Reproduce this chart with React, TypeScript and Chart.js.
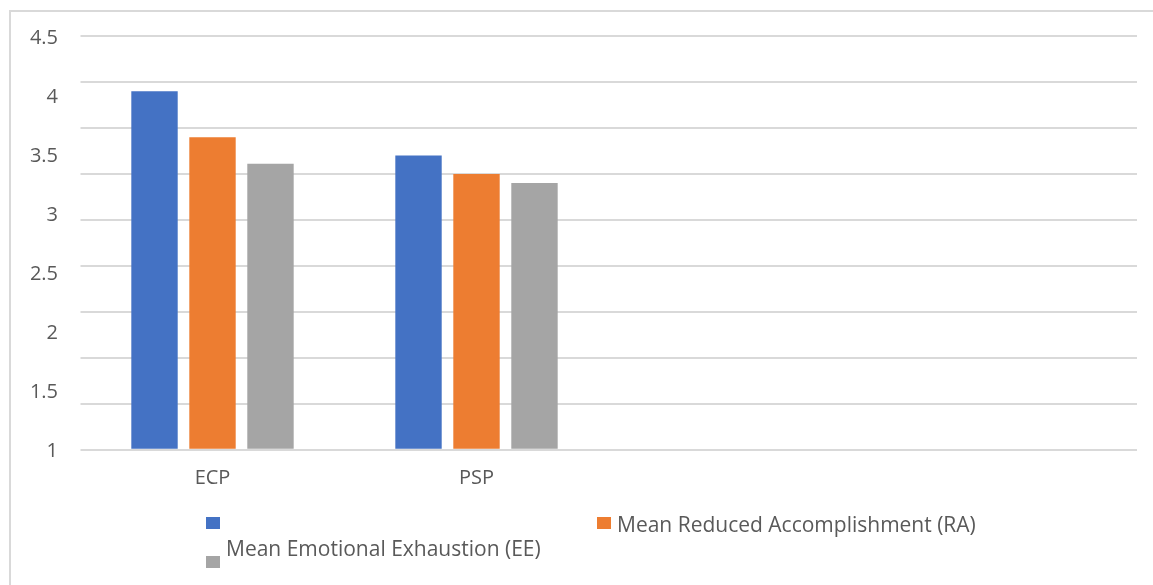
import React, { useEffect, useRef } from "react";
import { Chart, registerables } from "chart.js";

Chart.register(...registerables);

const categories = ["ECP", "PSP", "", ""];
const seriesLabels = ["", "Mean Reduced Accomplishment (RA)", "Mean Emotional Exhaustion (EE)"];
const blueValues = [3.9, 3.2];
const orangeValues = [3.4, 3.0];
const grayValues = [3.11, 2.9];
const seriesColors = ["#4472C4", "#ED7D31", "#A5A5A5"];
const gridMin = 0;
const gridMax = 4.5;
const gridStep = 0.5;
const labelMin = 1;
const labelMax = 4.5;
const labelStep = 0.5;

const FONT = "'Open Sans', 'Noto Sans', sans-serif";
const TEXT = "#595959";

const legendPlugin = {
  id: "customLegend",
  afterDraw(chart: any) {
    const ctx = chart.ctx;
    const ds = chart.data.datasets;
    const spots = [
      { bx: 206, by: 517, tx: 226, ty: 532 },
      { bx: 597, by: 517, tx: 617, ty: 532 },
      { bx: 206, by: 556, tx: 226, ty: 556 },
    ];
    ctx.save();
    ctx.font = `21px ${FONT}`;
    ctx.textBaseline = "alphabetic";
    ctx.textAlign = "left";
    ds.forEach((d: any, i: number) => {
      const s = spots[i];
      ctx.fillStyle = d.backgroundColor;
      ctx.fillRect(s.bx, s.by, 14, 12);
      ctx.fillStyle = TEXT;
      if (d.label) ctx.fillText(d.label, s.tx, s.ty);
    });
    ctx.restore();
  },
};

export default function App() {
  const ref = useRef<HTMLCanvasElement>(null);
  useEffect(() => {
    if (!ref.current) return;
    const chart = new Chart(ref.current, {
      type: "bar",
      data: {
        labels: categories,
        datasets: [
          { label: seriesLabels[0], data: blueValues, backgroundColor: seriesColors[0], yAxisID: "y" },
          { label: seriesLabels[1], data: orangeValues, backgroundColor: seriesColors[1], yAxisID: "y" },
          { label: seriesLabels[2], data: grayValues, backgroundColor: seriesColors[2], yAxisID: "y" },
        ],
      },
      options: {
        responsive: false,
        animation: false,
        categoryPercentage: 0.659,
        barPercentage: 0.8,
        layout: { padding: { top: 36, left: 0, right: 0, bottom: 0 } },
        plugins: { legend: { display: false }, tooltip: { enabled: false } },
        scales: {
          x: {
            grid: { display: false, drawTicks: false },
            border: { display: false },
            ticks: { color: TEXT, font: { family: FONT, size: 20 }, padding: 17, maxRotation: 0 },
            afterFit(scale: any) {
              scale.height = 135.3;
            },
          },
          y2: {
            position: "left",
            min: labelMin,
            max: labelMax,
            grid: { display: false, drawTicks: false },
            border: { display: false },
            ticks: {
              stepSize: labelStep,
              color: TEXT,
              font: { family: FONT, size: 20 },
              padding: 22.5,
              labelOffset: 2,
              callback: (v: any) => `${+v}`,
            },
            afterFit(scale: any) {
              scale.width = 80.5;
            },
          },
          y: {
            position: "right",
            min: gridMin,
            max: gridMax,
            grid: { color: "#d9d9d9", lineWidth: 2, drawTicks: false },
            border: { display: false },
            ticks: { stepSize: gridStep, display: false },
            afterFit(scale: any) {
              scale.width = 16.5;
            },
          },
        },
      } as any,
      plugins: [legendPlugin],
    });
    return () => chart.destroy();
  }, []);

  return (
    <div>
      <div
        style={{
          position: "fixed",
          left: 9,
          top: 10,
          width: 1144,
          height: 575,
          borderTop: "2px solid #d9d9d9",
          borderLeft: "2px solid #d9d9d9",
          boxSizing: "border-box",
        }}
      />
      <canvas
        ref={ref}
        width={1153}
        height={585}
        style={{ position: "fixed", left: 0, top: 0, width: 1153, height: 585 }}
      />
    </div>
  );
}
